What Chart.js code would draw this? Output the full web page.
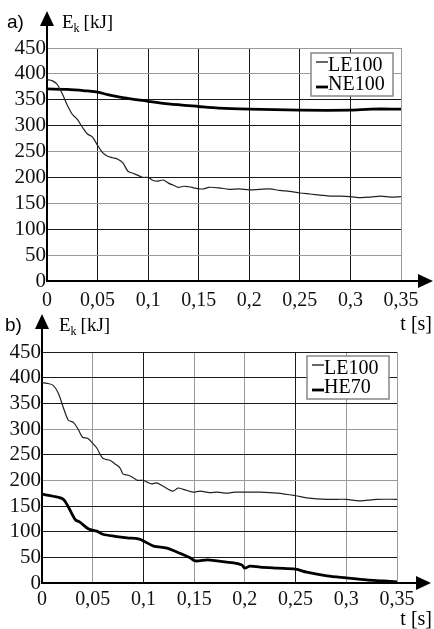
<!DOCTYPE html>
<html lang="en">
<head>
    <meta charset="UTF-8">
    <title>Kinetic energy vs time</title>
    <script src="https://cdn.jsdelivr.net/npm/chart.js"></script>
    <style>
        body { margin: 0; background: #fff; }
        .wrap { position: absolute; left: 0; width: 434px; }
        #wrapA { top: 0; height: 335px; }
        #wrapB { top: 300px; height: 329px; }
    </style>
</head>
<body>
    <div class="wrap" id="wrapA"><canvas id="chartA"></canvas></div>
    <div class="wrap" id="wrapB"><canvas id="chartB"></canvas></div>

    <script>
        // Tick labels
        const xTicks = [0, 0.05, 0.1, 0.15, 0.2, 0.25, 0.3, 0.35];
        const yTicks = [0, 50, 100, 150, 200, 250, 300, 350, 400, 450];

        // Chart a) - LE100
        const tA_LE100 = [0, 0.005, 0.01, 0.015, 0.02, 0.025, 0.03, 0.035, 0.04, 0.045, 0.05, 0.055, 0.06, 0.065, 0.07, 0.075, 0.08, 0.085, 0.09, 0.095, 0.1, 0.105, 0.11, 0.115, 0.12, 0.125, 0.13, 0.135, 0.14, 0.145, 0.15, 0.155, 0.16, 0.17, 0.18, 0.19, 0.2, 0.21, 0.22, 0.23, 0.24, 0.25, 0.26, 0.27, 0.28, 0.29, 0.3, 0.31, 0.32, 0.33, 0.34, 0.35];
        const eA_LE100 = [389, 387, 380, 362, 340, 322, 312, 297, 284, 278, 262, 248, 241, 238, 235, 228, 212, 208, 204, 200, 200, 194, 193, 195, 189, 185, 181, 183, 182, 180, 178, 178, 181, 180, 177, 178, 176, 177, 178, 175, 173, 170, 168, 166, 164, 164, 163, 161, 162, 164, 162, 163];
        // Chart a) - NE100
        const tA_NE100 = [0, 0.02, 0.04, 0.05, 0.06, 0.075, 0.09, 0.1, 0.12, 0.15, 0.17, 0.2, 0.25, 0.3, 0.32, 0.35];
        const eA_NE100 = [371, 370, 367, 365, 360, 354, 350, 347, 342, 337, 334, 332, 330, 330, 332, 332];

        // Chart b) - LE100
        const tB_LE100 = [0, 0.005, 0.011, 0.016, 0.021, 0.026, 0.031, 0.036, 0.04, 0.045, 0.05, 0.054, 0.06, 0.067, 0.072, 0.077, 0.08, 0.085, 0.09, 0.094, 0.1, 0.104, 0.108, 0.113, 0.12, 0.129, 0.134, 0.14, 0.149, 0.156, 0.165, 0.173, 0.182, 0.19, 0.2, 0.215, 0.232, 0.25, 0.261, 0.281, 0.3, 0.313, 0.33, 0.35];
        const eB_LE100 = [390, 389, 385, 370, 342, 317, 313, 298, 284, 282, 272, 263, 243, 239, 232, 224, 212, 210, 205, 200, 200, 196, 193, 195, 188, 179, 185, 182, 177, 179, 176, 177, 175, 177, 177, 177, 175, 170, 166, 163, 163, 160, 163, 163];
        // Chart b) - HE70
        const tB_HE70 = [0, 0.011, 0.021, 0.026, 0.033, 0.037, 0.046, 0.054, 0.06, 0.072, 0.084, 0.095, 0.1, 0.11, 0.123, 0.136, 0.146, 0.151, 0.163, 0.173, 0.189, 0.197, 0.2, 0.205, 0.215, 0.232, 0.25, 0.261, 0.281, 0.3, 0.32, 0.337, 0.35];
        const eB_HE70 = [173, 169, 163, 148, 123, 119, 105, 101, 95, 91, 88, 86, 82, 72, 68, 58, 49, 43, 45, 43, 39, 35, 29, 33, 31, 29, 27, 21, 14, 10, 6, 4, 2];

        const SERIF = '"Liberation Serif", "Times New Roman", serif';
        const toPoints = (ts, es) => ts.map((t, i) => ({ x: t, y: es[i] }));

        // Axis arrows, corner labels and the boxed legend
        const decoPlugin = {
            id: 'deco',
            afterDraw(chart, args, opts) {
                const ctx = chart.ctx;
                const a = chart.chartArea;
                ctx.save();
                ctx.fillStyle = '#000';
                ctx.strokeStyle = '#000';
                ctx.lineWidth = 2;

                // y axis extension + arrow
                ctx.beginPath();
                ctx.moveTo(a.left, a.top);
                ctx.lineTo(a.left, opts.yArrowTip + 12);
                ctx.stroke();
                ctx.beginPath();
                ctx.moveTo(a.left, opts.yArrowTip);
                ctx.lineTo(a.left - 7, opts.yArrowTip + 15);
                ctx.lineTo(a.left + 7, opts.yArrowTip + 15);
                ctx.closePath();
                ctx.fill();

                // x axis extension + arrow
                ctx.beginPath();
                ctx.moveTo(a.right, a.bottom);
                ctx.lineTo(opts.xArrowTip - 12, a.bottom);
                ctx.stroke();
                ctx.beginPath();
                ctx.moveTo(opts.xArrowTip, a.bottom);
                ctx.lineTo(opts.xArrowTip - 15, a.bottom - 7);
                ctx.lineTo(opts.xArrowTip - 15, a.bottom + 7);
                ctx.closePath();
                ctx.fill();

                // panel letter
                ctx.font = '19px "Liberation Sans", Arial, sans-serif';
                ctx.textBaseline = 'alphabetic';
                ctx.textAlign = 'left';
                ctx.fillText(opts.letter, opts.letterX, opts.titleY);

                // E_k [kJ]
                ctx.font = '19px ' + SERIF;
                let x = opts.eX;
                ctx.fillText('E', x, opts.titleY);
                x += ctx.measureText('E').width;
                ctx.font = '12px ' + SERIF;
                ctx.fillText('k', x, opts.titleY + 4);
                x += ctx.measureText('k').width + 4;
                ctx.font = '19px ' + SERIF;
                ctx.fillText('[kJ]', x, opts.titleY);

                // t [s]
                ctx.font = '20px ' + SERIF;
                ctx.textAlign = 'right';
                ctx.fillText('t [s]', 432, opts.tY);

                // legend box
                const bw = 82, bh = 43;
                const bx = a.right - 8 - bw;
                const by = a.top + opts.legendDy;
                ctx.fillStyle = '#fff';
                ctx.fillRect(bx, by, bw, bh);
                ctx.strokeStyle = '#888';
                ctx.lineWidth = 1.5;
                ctx.strokeRect(bx, by, bw, bh);
                ctx.font = '20px ' + SERIF;
                ctx.textAlign = 'left';
                ctx.textBaseline = 'middle';
                chart.data.datasets.forEach((ds, i) => {
                    const cy = by + 12 + i * 19;
                    ctx.strokeStyle = '#000';
                    ctx.lineWidth = ds.borderWidth;
                    ctx.beginPath();
                    ctx.moveTo(bx + 5, cy + (i === 0 ? -3 : 3));
                    ctx.lineTo(bx + 17, cy + (i === 0 ? -3 : 3));
                    ctx.stroke();
                    ctx.fillStyle = '#000';
                    ctx.fillText(ds.label, bx + 17, cy + 1);
                });
                ctx.restore();
            }
        };

        function makeChart(id, datasets, cfg) {
            return new Chart(document.getElementById(id), {
                type: 'line',
                data: { datasets: datasets },
                options: {
                    responsive: true,
                    maintainAspectRatio: false,
                    animation: false,
                    parsing: false,
                    layout: { padding: { left: 0, top: cfg.top, right: cfg.right, bottom: 0 } },
                    elements: { point: { radius: 0 }, line: { tension: 0.3 } },
                    plugins: {
                        legend: { display: false },
                        tooltip: { enabled: false },
                        deco: cfg.deco
                    },
                    scales: {
                        x: {
                            type: 'linear',
                            min: 0,
                            max: 0.35,
                            afterBuildTicks: s => { s.ticks = xTicks.map(v => ({ value: v })); },
                            afterFit: s => { s.height = cfg.xHeight; },
                            grid: {
                                drawTicks: false,
                                lineWidth: 1,
                                color: c => cfg.darkX.includes(c.tick && c.tick.value) ? '#1a1a1a' : '#9a9a9a'
                            },
                            border: { color: '#000', width: 2 },
                            ticks: {
                                padding: cfg.xPad,
                                color: '#111',
                                maxRotation: 0,
                                autoSkip: false,
                                font: { family: SERIF, size: 20 },
                                callback: v => String(Math.round(v * 100) / 100).replace('.', ',')
                            }
                        },
                        y: {
                            min: 0,
                            max: 450,
                            afterBuildTicks: s => { s.ticks = yTicks.map(v => ({ value: v })); },
                            afterFit: s => { s.width = cfg.yWidth; },
                            grid: {
                                drawTicks: false,
                                lineWidth: 1,
                                color: c => cfg.darkY.includes(c.tick && c.tick.value) ? '#1a1a1a' : '#9a9a9a'
                            },
                            border: { color: '#000', width: 2 },
                            ticks: {
                                padding: 1,
                                color: '#111',
                                autoSkip: false,
                                font: { family: SERIF, size: 21 }
                            }
                        }
                    }
                },
                plugins: [decoPlugin]
            });
        }

        makeChart('chartA', [
            { label: 'LE100', data: toPoints(tA_LE100, eA_LE100), borderColor: '#222', borderWidth: 1.2 },
            { label: 'NE100', data: toPoints(tA_NE100, eA_NE100), borderColor: '#000', borderWidth: 2.8 }
        ], {
            top: 48, right: 33, xHeight: 54, yWidth: 47, xPad: 8,
            darkX: [0.05, 0.1, 0.15, 0.2, 0.25, 0.3],
            darkY: [100, 200, 300, 350],
            deco: { letter: 'a)', letterX: 7, titleY: 28, eX: 62, tY: 330, yArrowTip: 11, xArrowTip: 433, legendDy: 5 }
        });

        makeChart('chartB', [
            { label: 'LE100', data: toPoints(tB_LE100, eB_LE100), borderColor: '#222', borderWidth: 1.2 },
            { label: 'HE70', data: toPoints(tB_HE70, eB_HE70), borderColor: '#000', borderWidth: 2.8 }
        ], {
            top: 52, right: 37, xHeight: 46, yWidth: 42, xPad: 5,
            darkX: [0.1, 0.25],
            darkY: [50, 100, 150, 250, 350, 400, 450],
            deco: { letter: 'b)', letterX: 5, titleY: 31, eX: 59, tY: 325, yArrowTip: 14, xArrowTip: 431, legendDy: 4 }
        });
    </script>
</body>
</html>
